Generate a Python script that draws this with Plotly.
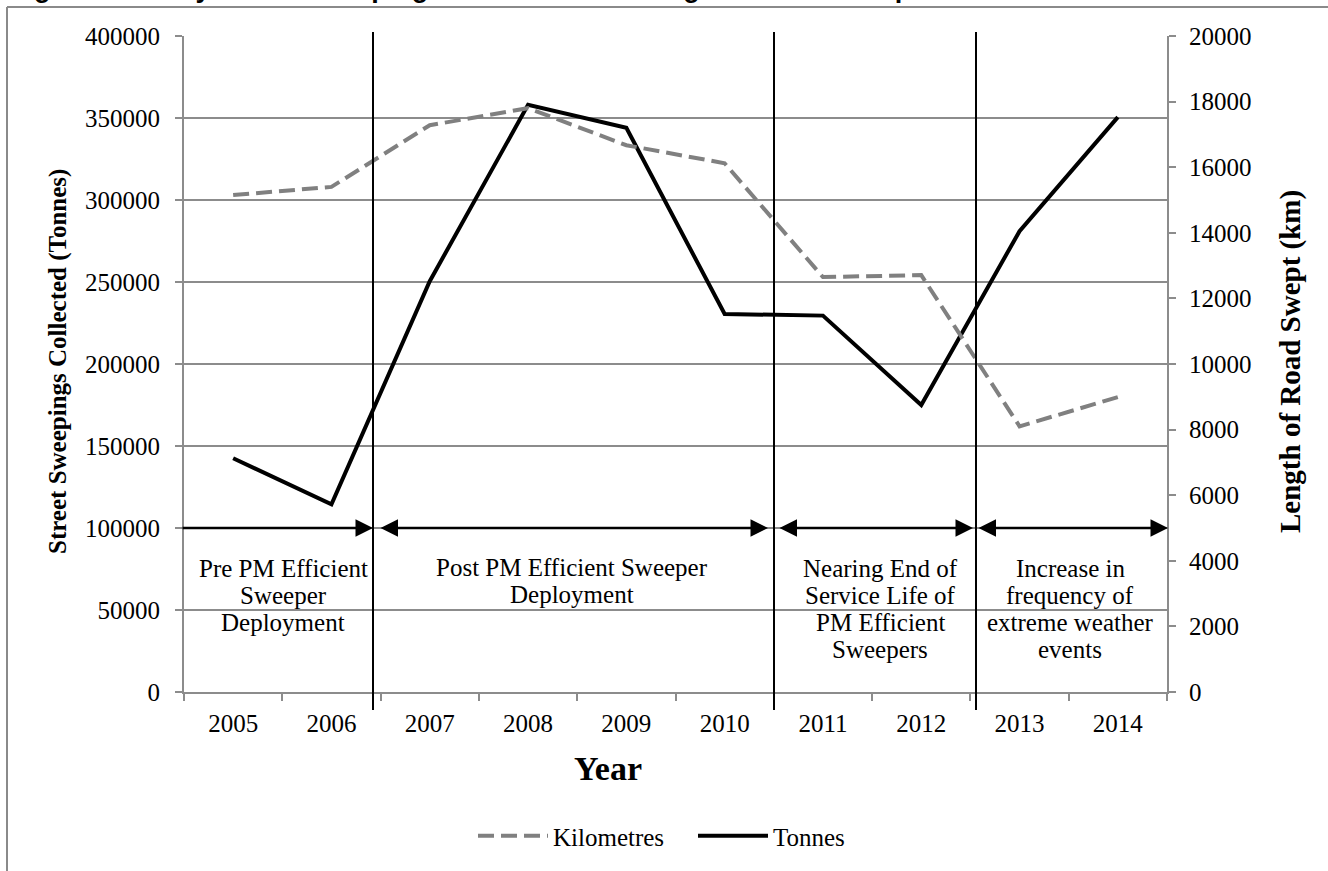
import plotly.graph_objects as go

years = ["2005", "2006", "2007", "2008", "2009", "2010", "2011", "2012", "2013", "2014"]
tonnes = [142500, 114500, 250500, 358000, 344000, 230500, 229500, 175000, 281000, 350500]
kilometres = [15150, 15400, 17280, 17800, 16670, 16120, 12650, 12710, 8100, 8990]

phase_labels = [
    ["Pre PM Efficient", "Sweeper", "Deployment"],
    ["Post PM Efficient Sweeper", "Deployment"],
    ["Nearing End of", "Service Life of", "PM Efficient", "Sweepers"],
    ["Increase in", "frequency of", "extreme weather", "events"],
]

SERIF = "Liberation Serif, Times New Roman, serif"
GRID = "#8c8c8c"
FS = 25

fig = go.Figure()
fig.add_trace(go.Scatter(
    x=years, y=kilometres, name="Kilometres", yaxis="y2", mode="lines",
    line=dict(color="#808080", width=4, dash="16px,7px"),
))
fig.add_trace(go.Scatter(
    x=years, y=tonnes, name="Tonnes", yaxis="y", mode="lines",
    line=dict(color="#000000", width=4),
))

# plot-area pixel geometry helpers (for decorations only)
L, R, T, B = 184, 1167, 36, 692
W, H = R - L, B - T
def xp(px):
    return (px - L) / W
def yp(py):
    return (B - py) / H
def xi(px):
    return (px - L) / (W / len(years)) - 0.5

shapes = []
for px in [373, 774, 976]:
    shapes.append(dict(type="line", xref="paper", yref="paper",
                       x0=xp(px), x1=xp(px), y0=yp(32), y1=yp(710),
                       line=dict(color="black", width=2)))
# outer chart border (top and left visible)
shapes.append(dict(type="line", xref="paper", yref="paper",
                   x0=xp(7), x1=xp(1340), y0=yp(7), y1=yp(7),
                   line=dict(color="#8a8a8a", width=2)))
shapes.append(dict(type="line", xref="paper", yref="paper",
                   x0=xp(7), x1=xp(7), y0=yp(7), y1=yp(880),
                   line=dict(color="#8a8a8a", width=2)))

annotations = []
arrow_y = 100000
arrows = [(181, 373, "end"), (379, 768, "end+start"), (778, 973, "end+start"), (977, 1168, "end+start")]
for a, b, side in arrows:
    annotations.append(dict(
        xref="x", yref="y", axref="x", ayref="y",
        x=xi(b), y=arrow_y, ax=xi(a), ay=arrow_y, text="",
        showarrow=True, arrowhead=2, arrowside=side, arrowsize=1.4,
        arrowwidth=2.5, arrowcolor="black", standoff=0, startstandoff=0,
    ))

label_pos = [(283, 568), (572, 567), (880, 568), (1070, 568)]
LINE_STEP = 27
for lines, (px, py) in zip(phase_labels, label_pos):
    for k, txt in enumerate(lines):
        annotations.append(dict(
            xref="paper", yref="paper", x=xp(px), y=yp(py + k * LINE_STEP), text=txt,
            showarrow=False, xanchor="center", yanchor="middle", align="center",
            font=dict(family=SERIF, size=FS, color="black"),
        ))

annotations.append(dict(
    xref="paper", yref="paper", x=xp(58), y=yp(362), textangle=-90,
    text="<b>Street Sweepings Collected (Tonnes)</b>", showarrow=False,
    xanchor="center", yanchor="middle", font=dict(family=SERIF, size=FS, color="black"),
))
annotations.append(dict(
    xref="paper", yref="paper", x=xp(1290), y=yp(362), textangle=-90,
    text="<b>Length of Road Swept (km)</b>", showarrow=False,
    xanchor="center", yanchor="middle", font=dict(family=SERIF, size=29, color="black"),
))
annotations.append(dict(
    xref="paper", yref="paper", x=xp(608), y=yp(768),
    text="<b>Year</b>", showarrow=False,
    xanchor="center", yanchor="middle", font=dict(family=SERIF, size=34, color="black"),
))
annotations.append(dict(
    xref="paper", yref="paper", x=xp(8), y=yp(5),
    text="<b>Figure 4: Yearly Street Sweepings Collected and Length of Road Swept</b>",
    showarrow=False, xanchor="left", yanchor="bottom",
    font=dict(family="Liberation Sans, Arial, sans-serif", size=27, color="black"),
))

fig.update_layout(
    width=1328, height=871,
    margin=dict(l=L, r=1328 - R, t=T, b=871 - B),
    paper_bgcolor="white", plot_bgcolor="white",
    font=dict(family=SERIF, size=FS, color="black"),
    showlegend=True,
    legend=dict(orientation="h", x=xp(473), y=yp(836), xanchor="left", yanchor="middle",
                font=dict(family=SERIF, size=FS, color="black"), itemwidth=70,
                entrywidth=135, entrywidthmode="pixels",
                bgcolor="rgba(0,0,0,0)"),
    xaxis=dict(type="category", range=[-0.5, 9.5], showgrid=False,
               showline=True, linecolor=GRID, linewidth=2,
               ticks="outside", tickson="boundaries", ticklen=7, tickcolor=GRID, tickwidth=2,
               ticklabelstandoff=8,
               tickfont=dict(family=SERIF, size=FS), fixedrange=True),
    yaxis=dict(range=[0, 400000], dtick=50000, showgrid=True, gridcolor=GRID, gridwidth=1.5,
               showline=True, linecolor=GRID, linewidth=2, ticks="outside", ticklen=7,
               tickcolor=GRID, tickwidth=2, tickformat="d", zeroline=False,
               ticklabelstandoff=10,
               tickfont=dict(family=SERIF, size=FS)),
    yaxis2=dict(range=[0, 20000], dtick=2000, overlaying="y", side="right", showgrid=False,
                showline=True, linecolor=GRID, linewidth=2, ticks="outside", ticklen=7,
                tickcolor=GRID, tickwidth=2, tickformat="d", zeroline=False,
                ticklabelstandoff=8,
                tickfont=dict(family=SERIF, size=FS)),
    shapes=shapes, annotations=annotations,
)

fig.write_html("out.html", config=dict(displayModeBar=False),
               post_script="document.body.style.margin='0px';document.body.style.overflow='hidden';")
